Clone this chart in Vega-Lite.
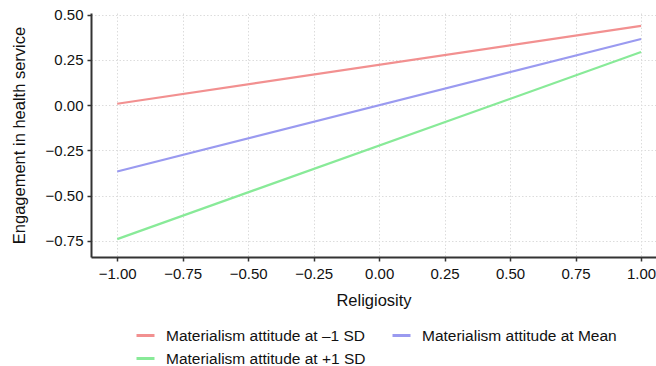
{
  "$schema": "https://vega.github.io/schema/vega-lite/v6.json",
  "width": 565,
  "height": 244,
  "autosize": {"type": "none"},
  "padding": {"left": 91, "top": 13, "right": 0, "bottom": 109},
  "background": "white",
  "config": {
    "view": {"stroke": null},
    "font": "Liberation Sans",
    "axis": {
      "labelFont": "Liberation Sans",
      "titleFont": "Liberation Sans",
      "labelFontSize": 15,
      "titleFontSize": 16.5,
      "titleFontWeight": "normal",
      "labelColor": "#111",
      "titleColor": "#111",
      "domainColor": "#333",
      "domainWidth": 2,
      "tickColor": "#333",
      "tickSize": 4,
      "tickWidth": 1.5,
      "gridColor": "#dcdcdc",
      "gridDash": [1.5, 2],
      "gridWidth": 1
    },
    "legend": {
      "labelFont": "Liberation Sans",
      "labelFontSize": 15.5,
      "labelColor": "#111",
      "labelLimit": 400
    }
  },
  "data": {
    "values": [
      {"religiosity": -1, "engagement": 0.008, "group": "Materialism attitude at –1 SD"},
      {"religiosity": 1, "engagement": 0.439, "group": "Materialism attitude at –1 SD"},
      {"religiosity": -1, "engagement": -0.367, "group": "Materialism attitude at Mean"},
      {"religiosity": 1, "engagement": 0.366, "group": "Materialism attitude at Mean"},
      {"religiosity": -1, "engagement": -0.741, "group": "Materialism attitude at +1 SD"},
      {"religiosity": 1, "engagement": 0.294, "group": "Materialism attitude at +1 SD"}
    ]
  },
  "mark": {"type": "line", "strokeWidth": 2.2, "clip": true},
  "encoding": {
    "x": {
      "field": "religiosity",
      "type": "quantitative",
      "scale": {"domain": [-1.1, 1.057], "nice": false, "zero": false},
      "axis": {
        "title": "Religiosity",
        "values": [-1, -0.75, -0.5, -0.25, 0, 0.25, 0.5, 0.75, 1],
        "format": ".2f",
        "labelPadding": 5,
        "titlePadding": 11
      }
    },
    "y": {
      "field": "engagement",
      "type": "quantitative",
      "scale": {"domain": [-0.84, 0.51], "nice": false, "zero": false},
      "axis": {
        "title": "Engagement in health service",
        "values": [-0.75, -0.5, -0.25, 0, 0.25, 0.5],
        "format": ".2f",
        "labelPadding": 4,
        "titlePadding": 18
      }
    },
    "color": {
      "field": "group",
      "type": "nominal",
      "sort": ["Materialism attitude at –1 SD", "Materialism attitude at +1 SD", "Materialism attitude at Mean"],
      "scale": {
        "domain": ["Materialism attitude at –1 SD", "Materialism attitude at +1 SD", "Materialism attitude at Mean"],
        "range": ["#f29090", "#88ea98", "#9a9af0"]
      },
      "legend": {
        "title": null,
        "orient": "none",
        "legendX": 44,
        "legendY": 312,
        "columns": 2,
        "columnPadding": 20,
        "rowPadding": 4,
        "symbolType": "stroke",
        "symbolSize": 324,
        "symbolStrokeWidth": 3,
        "labelOffset": 10
      }
    }
  }
}
